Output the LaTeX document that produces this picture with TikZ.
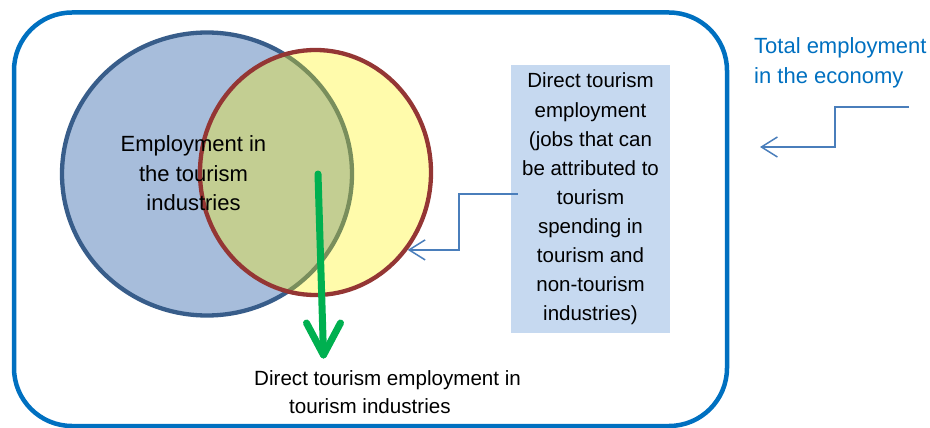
\documentclass[tikz,border=0pt]{standalone}
\usepackage{fontspec}
\setmainfont{Liberation Sans}
\usetikzlibrary{shapes.geometric,arrows.meta,calc}
\definecolor{frameblue}{HTML}{0070C0}
\definecolor{ellblue}{HTML}{A7BDDB}
\definecolor{ellblueline}{HTML}{385D8A}
\definecolor{ellred}{HTML}{943634}
\definecolor{boxblue}{HTML}{C6D9F0}
\definecolor{connblue}{HTML}{4A7EBB}
\definecolor{arrgreen}{HTML}{00B050}
\begin{document}
\begin{tikzpicture}[x=1pt,y=-1pt,
  frame/.style={draw=frameblue,line width=4.5pt,rounded corners=58pt},
  setell/.style={ellipse,inner sep=0pt,line width=4.3pt},
  lbl/.style={inner sep=0pt,text=black},
  conn/.style={draw=connblue,line width=1.5pt,-{Straight Barb[length=16pt,width=20pt,line width=1.5pt]}},
  greenarr/.style={draw=arrgreen,line width=7pt,line cap=round,line join=round}
]
\useasboundingbox (0,0) rectangle (930,428);
% outer frame
\draw[frame] (14,12.5) rectangle (727,426);
% blue set
\node[setell,draw=ellblueline,fill=ellblue,minimum width=290pt,minimum height=283pt] (be) at (207,174) {};
% yellow set
\node[setell,draw=ellred,fill=yellow,fill opacity=0.33,draw opacity=1,minimum width=231pt,minimum height=245pt] (ye) at (315.5,172.5) {};
% texts
\node[lbl,align=center,font=\fontsize{22}{29.5}\selectfont] (emp) at (193.5,173.5) {Employment in\\the tourism\\industries};
\node[lbl,align=left,anchor=north west,text=frameblue,font=\fontsize{22}{30}\selectfont] (tot) at (754,37) {Total employment\\in the economy};
\node[lbl,align=left,anchor=north west,font=\fontsize{20.6}{28}\selectfont] (dti) at (254,370) {Direct tourism employment in\\\hspace*{35pt}tourism industries};
% box
\node[lbl,fill=boxblue,minimum width=159pt,minimum height=268pt,align=center,font=\fontsize{20.5}{29.1}\selectfont] (box) at (590.5,199) {Direct tourism\\employment\\(jobs that can\\be attributed to\\tourism\\spending in\\tourism and\\non-tourism\\industries)};
% connectors
\draw[conn] ($(box.west)+(7,-5)$) -- (459,194) |- (ye.-40.6);
\coordinate (ts) at (909,107);
\coordinate (tt) at (760,147);
\draw[conn] (ts) -- (835,107) |- (tt);
% green arrow
\coordinate (gs) at (318,174);
\coordinate (gt) at (323.5,355);
\draw[greenarr] (gs) -- (gt);
\draw[greenarr] ($(gt)+(-17,-32)$) -- (gt) -- ($(gt)+(17,-32)$);
\end{tikzpicture}
\end{document}
